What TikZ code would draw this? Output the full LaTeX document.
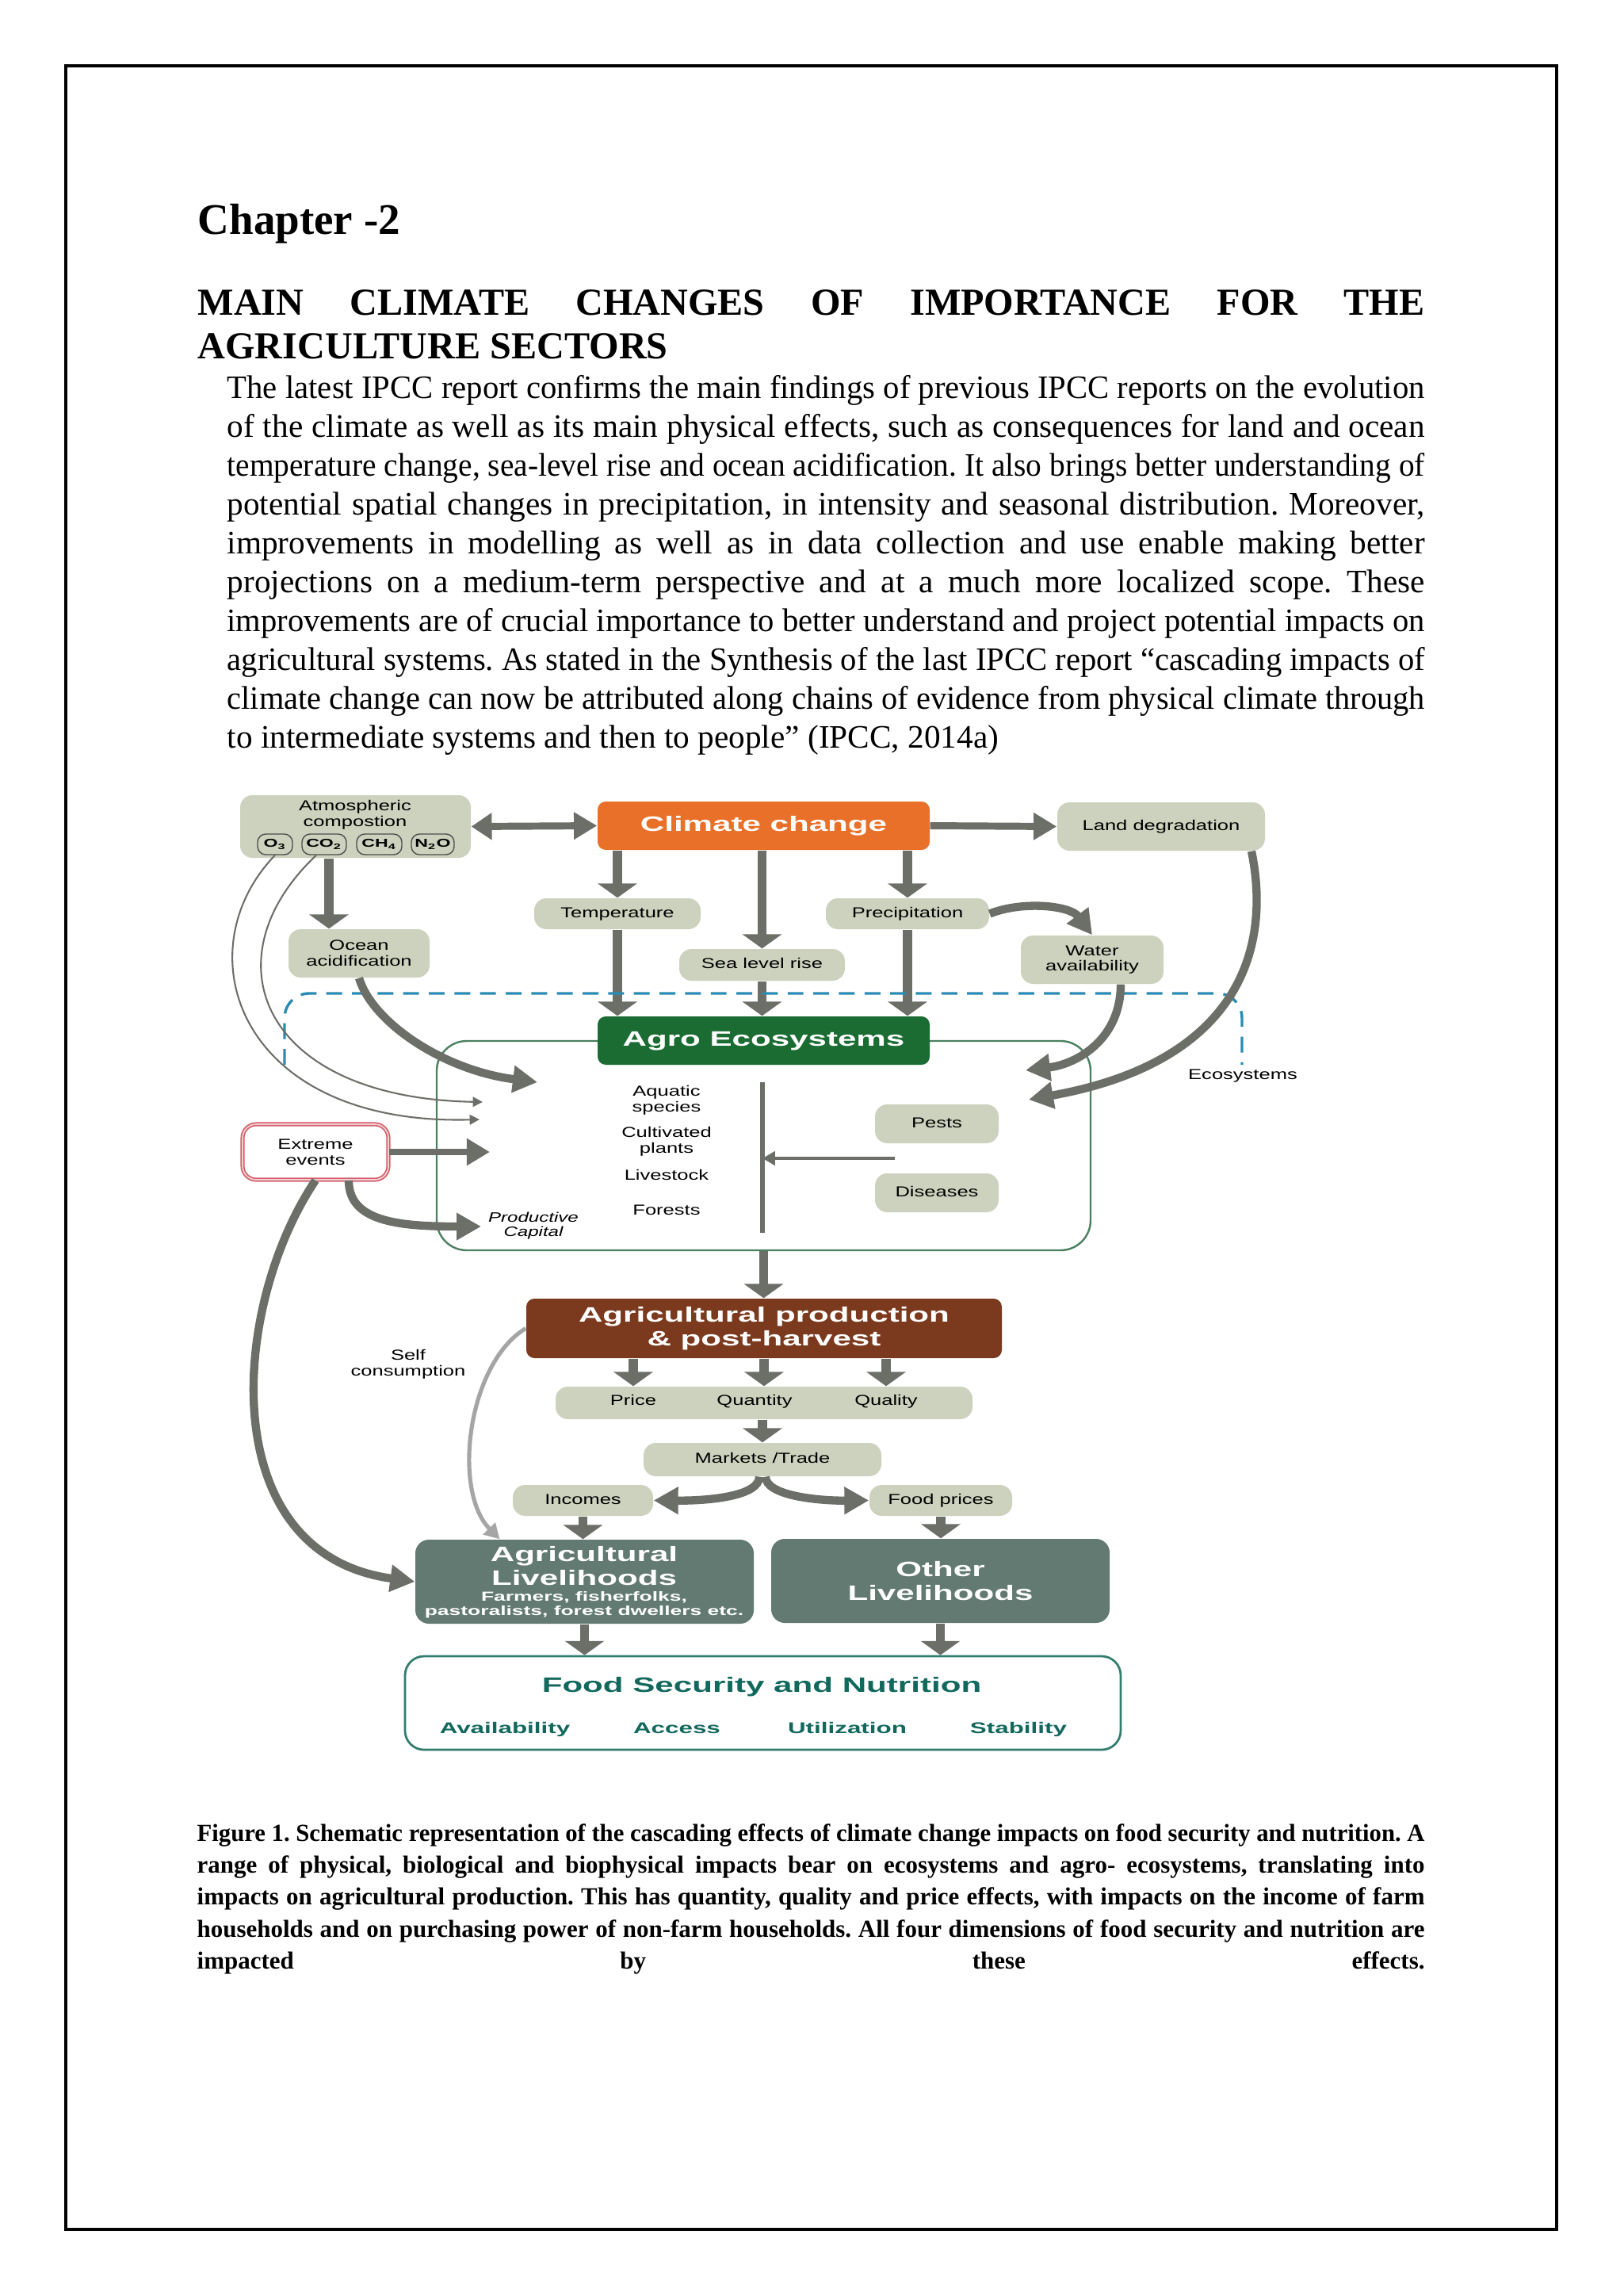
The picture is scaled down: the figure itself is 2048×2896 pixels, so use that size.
\documentclass[tikz,border=0pt]{standalone}
\usepackage{fontspec}
\usepackage{graphicx}
\setmainfont{Liberation Serif}
\newfontfamily\ff[FakeStretch=1.6]{Liberation Sans}
\newfontfamily\ffr[FakeStretch=1.4]{Liberation Sans}
\usetikzlibrary{arrows.meta,calc}
\frenchspacing

\definecolor{boxg}{RGB}{205,210,190}
\definecolor{ccor}{RGB}{233,112,40}
\definecolor{agrog}{RGB}{27,108,50}
\definecolor{brownp}{RGB}{123,58,30}
\definecolor{livg}{RGB}{99,122,115}
\definecolor{fsteal}{RGB}{18,104,92}
\definecolor{fsline}{RGB}{50,125,110}
\definecolor{arrg}{RGB}{108,110,104}
\definecolor{ecob}{RGB}{42,140,178}
\definecolor{inng}{RGB}{74,128,96}
\definecolor{exred}{RGB}{212,96,106}
\definecolor{lgr}{RGB}{165,165,165}

\newsavebox\fitbox
\newcommand\fitline[2]{\sbox\fitbox{#2}\ifdim\wd\fitbox>#1\relax\resizebox{#1}{\height}{\usebox\fitbox}\else\makebox[#1][s]{#2}\fi}

\newcommand\bx[7][]{%
  \pgfmathsetmacro\bxw{(#5-#3)*0.29066}%
  \pgfmathsetmacro\bxh{(#6-#4)*0.29066}%
  \node[inner sep=0pt, minimum width=\bxw pt, minimum height=\bxh pt, #1] (#2) at ({(#3+#5)/2},{(#4+#6)/2}) {#7};}

\tikzset{
  lbl/.style={font=\ffr\fontsize{5.3}{5.7}\selectfont, align=center, inner sep=0pt},
  one/.style={text height=3.9pt, text depth=1.1pt},
  onet/.style={text height=5.6pt, text depth=1.5pt},
  lbox/.style={lbl, fill=boxg, rounded corners=4.5pt},
  pill/.style={draw=black!70, line width=0.4pt, fill=boxg, rounded corners=3pt, font=\ff\bfseries\fontsize{4.2}{5}\selectfont},
  ttl/.style={font=\ff\bfseries\fontsize{7.65}{8.7}\selectfont, text=white, align=center, inner sep=0pt},
  ttlbox/.style={ttl, rounded corners=3pt},
  livbox/.style={ttl, fill=livg, rounded corners=5pt},
  exbox/.style={lbl, fill=white, draw=exred, line width=0.5pt, double=exred!30, double distance=0.5pt, rounded corners=5pt},
  fsbox/.style={draw=fsline, line width=0.8pt, fill=white, rounded corners=7pt},
  fsttl/.style={font=\ff\bfseries\fontsize{7.65}{9}\selectfont, text=fsteal, inner sep=0pt},
  fsdim/.style={font=\ff\bfseries\fontsize{5.7}{7}\selectfont, text=fsteal, inner sep=0pt, text height=4.2pt, text depth=1.2pt},
  subttl/.style={font=\ff\bfseries\fontsize{4.8}{5.3}\selectfont, text=white, align=center, inner sep=0pt},
  varr/.style={draw=arrg, line width=3.3pt, -{Triangle[width=14.2pt,length=5.2pt]}},
  harr/.style={draw=arrg, line width=2.6pt, -{Triangle[width=9.5pt,length=8.5pt]}},
  dblarr/.style={draw=arrg, line width=2.6pt, {Triangle[width=9.5pt,length=7.5pt]}-{Triangle[width=9.5pt,length=8.5pt]}},
  carr/.style={draw=arrg, line width=3pt, -{Triangle[width=9.5pt,length=9pt]}},
  tarr/.style={draw=arrg, line width=0.6pt, -{Triangle[width=3.6pt,length=3.6pt]}},
  parr/.style={draw=arrg, line width=1.2pt, -{Triangle[width=5pt,length=4.6pt]}},
  sarr/.style={draw=lgr, line width=1.5pt, -{Triangle[width=6pt,length=5.5pt]}},
  bodyt/.style={anchor=base west, inner sep=0pt, font=\fontsize{12}{14}\selectfont},
  capt/.style={anchor=base west, inner sep=0pt, font=\bfseries\fontsize{9}{10}\selectfont},
}

\begin{document}
\begin{tikzpicture}[x=0.29066pt, y=-0.29066pt]
\fill[white] (0,0) rectangle (2048,2896);
\useasboundingbox (0,0) rectangle (2048,2896);
\draw[line width=1pt] (83,83) rectangle (1964,2812);

% headings
\node[anchor=base west, inner sep=0pt, font=\bfseries\fontsize{16}{19}\selectfont] (h0) at (249,295) {Chapter -2};
\node[anchor=base west, inner sep=0pt, font=\bfseries\fontsize{14}{16}\selectfont] (h1) at (249,397) {\makebox[449.9pt][s]{MAIN CLIMATE CHANGES OF IMPORTANCE FOR THE}};
\node[anchor=base west, inner sep=0pt, font=\bfseries\fontsize{14}{16}\selectfont] (h2) at (249,452) {AGRICULTURE SECTORS};

% body
\node[bodyt] (b1) at (286,502) {\fitline{439.2pt}{The latest IPCC report confirms the main findings of previous IPCC reports on the evolution}};
\node[bodyt] (b2) at (286,551) {\fitline{439.2pt}{of the climate as well as its main physical effects, such as consequences for land and ocean}};
\node[bodyt] (b3) at (286,600) {\fitline{439.2pt}{temperature change, sea-level rise and ocean acidification. It also brings better understanding of}};
\node[bodyt] (b4) at (286,649) {\fitline{439.2pt}{potential spatial changes in precipitation, in intensity and seasonal distribution. Moreover,}};
\node[bodyt] (b5) at (286,698) {\fitline{439.2pt}{improvements in modelling as well as in data collection and use enable making better}};
\node[bodyt] (b6) at (286,747) {\fitline{439.2pt}{projections on a medium-term perspective and at a much more localized scope. These}};
\node[bodyt] (b7) at (286,796) {\fitline{439.2pt}{improvements are of crucial importance to better understand and project potential impacts on}};
\node[bodyt] (b8) at (286,845) {\fitline{439.2pt}{agricultural systems. As stated in the Synthesis of the last IPCC report “cascading impacts of}};
\node[bodyt] (b9) at (286,894) {\fitline{439.2pt}{climate change can now be attributed along chains of evidence from physical climate through}};
\node[bodyt] (b10) at (286,943) {to intermediate systems and then to people” (IPCC, 2014a)};

% caption
\node[capt] (c1) at (248,2322) {\fitline{450.2pt}{Figure 1. Schematic representation of the cascading effects of climate change impacts on food security and nutrition. A}};
\node[capt] (c2) at (248,2362) {\fitline{450.2pt}{range of physical, biological and biophysical impacts bear on ecosystems and agro- ecosystems, translating into}};
\node[capt] (c3) at (248,2402) {\fitline{450.2pt}{impacts on agricultural production. This has quantity, quality and price effects, with impacts on the income of farm}};
\node[capt] (c4) at (248,2443) {\fitline{450.2pt}{households and on purchasing power of non-farm households. All four dimensions of food security and nutrition are}};
\node[capt] (c5) at (248,2483) {\makebox[450.2pt][s]{impacted by these effects.}};

% ===== figure =====
\bx[draw=inng, line width=0.7pt, rounded corners=11pt]{agroin}{551}{1313}{1376}{1577}{}

\bx[lbox]{atm}{303}{1003}{594}{1082}{}
\node[lbl] (atmtxt) at (448,1028) {Atmospheric\\compostion};
\bx[pill]{o3}{325}{1052}{369}{1078}{O\textsubscript{3}}
\bx[pill]{co2}{381}{1052}{437}{1078}{CO\textsubscript{2}}
\bx[pill]{ch4}{450}{1052}{507}{1078}{CH\textsubscript{4}}
\bx[pill]{n2o}{519}{1052}{573}{1078}{N\textsubscript{2}O}

\bx[ttlbox, onet, fill=ccor]{climate}{754}{1011}{1173}{1072}{Climate change}
\bx[lbox, one]{land}{1334}{1012}{1596}{1073}{Land degradation}
\bx[lbox, one]{temp}{674}{1133}{884}{1172}{Temperature}
\bx[lbox, one]{precip}{1042}{1133}{1248}{1172}{Precipitation}
\bx[lbox, one]{sea}{857}{1197}{1066}{1237}{Sea level rise}
\bx[lbox]{water}{1288}{1180}{1468}{1241}{Water\\availability}
\bx[lbox]{ocean}{364}{1172}{542}{1233}{Ocean\\acidification}
\bx[ttlbox, onet, fill=agrog]{agro}{754}{1282}{1173}{1343}{Agro Ecosystems}
\bx[exbox]{extreme}{306}{1418}{490}{1488}{Extreme\\events}
\bx[lbox, one]{pests}{1104}{1393}{1260}{1442}{Pests}
\bx[lbox, one]{diseases}{1104}{1480}{1260}{1529}{Diseases}

\node[lbl] (aquatic) at (841,1388) {Aquatic\\species};
\node[lbl] (cultivated) at (841,1440) {Cultivated\\plants};
\node[lbl, one] (livestock) at (841,1484) {Livestock};
\node[lbl, one] (forests) at (841,1528) {Forests};
\node[lbl, font=\ffr\itshape\fontsize{5}{5.4}\selectfont] (prodcap) at (673,1546) {Productive\\Capital};
\node[lbl, one] (ecolbl) at (1568,1357) {Ecosystems};

\bx[ttlbox, fill=brownp]{agriprod}{664}{1638}{1264}{1713}{Agricultural production\\\& post-harvest}
\bx[lbox]{ppq}{701}{1749}{1227}{1790}{}
\node[lbl, one] (price) at (799,1768) {Price};
\node[lbl, one] (quantity) at (952,1768) {Quantity};
\node[lbl, one] (quality) at (1118,1768) {Quality};
\bx[lbox, one]{markets}{812}{1820}{1112}{1862}{Markets /Trade}
\bx[lbox, one]{incomes}{647}{1873}{824}{1912}{Incomes}
\bx[lbox, one]{foodprices}{1097}{1873}{1277}{1912}{Food prices}
\node[lbl] (selfc) at (515,1721) {Self\\consumption};

\bx[livbox]{agrilive}{524}{1942}{951}{2048}{}
\node[ttl] (alt) at (737,1975) {Agricultural\\Livelihoods};
\node[subttl] (als) at (737,2024) {Farmers, fisherfolks,\\pastoralists, forest dwellers etc.};
\bx[livbox]{otherlive}{973}{1941}{1400}{2047}{Other\\Livelihoods}

\bx[fsbox]{foodsec}{511}{2089}{1414}{2207}{}
\node[fsttl, onet] (fst) at (961,2127) {Food Security and Nutrition};
\node[fsdim] (avail) at (637,2181) {Availability};
\node[fsdim] (access) at (854,2181) {Access};
\node[fsdim] (util) at (1069,2181) {Utilization};
\node[fsdim] (stab) at (1285,2181) {Stability};

\coordinate (oend) at (678,1365);
\coordinate (wend) at (1294,1350);
\coordinate (lend) at (1298,1387);
\coordinate (o3end) at (605,1412);
\coordinate (co2end) at (609,1390);
\coordinate (exend) at (618,1453);
\coordinate (pcend) at (607,1547);
\coordinate (vtop) at (962,1365);
\coordinate (vbot) at (962,1555);
\coordinate (pdmid) at ($(pests.south)!0.5!(diseases.north)+(-53,0)$);
\coordinate (ocx) at ($(ocean.north)+(-38,0)$);

\draw[dblarr] (atm.east) -- (climate.west);
\draw[harr] (climate.east) -- (land.west);
\draw[varr] (climate.south -| temp.north) -- (temp.north);
\draw[varr] (climate.south -| sea.north) -- (sea.north);
\draw[varr] (climate.south -| precip.north) -- (precip.north);
\draw[varr] (temp.south) -- (temp.south |- agro.north);
\draw[varr] (sea.south) -- (sea.south |- agro.north);
\draw[varr] (precip.south) -- (precip.south |- agro.north);
\draw[varr] (ocx |- atm.south) -- (ocx);
\draw[carr] (precip.east) .. controls (1290,1136) and (1350,1142) .. (water.north);

\draw[ecob, line width=1pt, dash pattern=on 5.8pt off 3.6pt, rounded corners=9pt] (359,1343) -- (359,1253) -- (1567,1253) -- (1567,1343);

\draw[carr] ($(water.south)+(36,0)$) .. controls (1414,1310) and (1360,1342) .. (wend);
\draw[carr] ($(land.south)+(114,0)$) .. controls (1605,1200) and (1560,1340) .. (lend);
\draw[carr] (ocean.south) .. controls (470,1290) and (560,1350) .. (oend);
\draw[tarr] (o3.south) .. controls (230,1200) and (300,1420) .. (o3end);
\draw[tarr] ($(co2.south)+(-10,0)$) .. controls (260,1210) and (330,1385) .. (co2end);

\draw[harr] (extreme.east) -- (exend);
\draw[carr] ($(extreme.south)+(42,0)$) .. controls (440,1540) and (500,1547) .. (pcend);
\draw[carr] (extreme.south) .. controls (290,1650) and (270,1960) .. (agrilive.west);

\draw[arrg, line width=1.5pt] (vtop) -- (vbot);
\draw[parr] (pdmid) -- (pdmid -| vtop);

\draw[varr] (agroin.south) -- (agroin.south |- agriprod.north);
\draw[varr] (agriprod.south -| price) -- (price |- ppq.north);
\draw[varr] (agriprod.south) -- (agriprod.south |- ppq.north);
\draw[varr] (agriprod.south -| quality) -- (quality |- ppq.north);
\draw[varr] (ppq.south -| markets.north) -- (markets.north);
\draw[carr] ($(markets.south)+(-4,0)$) .. controls (958,1886) and (900,1893) .. (incomes.east);
\draw[carr] ($(markets.south)+(4,0)$) .. controls (966,1886) and (1030,1893) .. (foodprices.west);
\draw[varr] (incomes.south) -- (incomes.south |- agrilive.north);
\draw[varr] (foodprices.south) -- (foodprices.south |- otherlive.north);
\draw[varr] (agrilive.south) -- (agrilive.south |- foodsec.north);
\draw[varr] (otherlive.south) -- (otherlive.south |- foodsec.north);
\draw[sarr] (agriprod.west) .. controls (590,1720) and (570,1880) .. ($(agrilive.north west)!0.25!(agrilive.north east)$);
\end{tikzpicture}
\end{document}
